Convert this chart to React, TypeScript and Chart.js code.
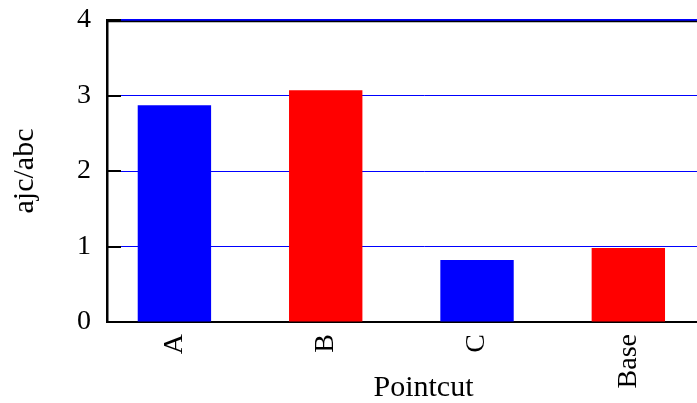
import React, { useEffect, useRef } from "react";
import { Chart, registerables } from "chart.js";

Chart.register(...registerables);

const categories = ["A", "B", "C", "Base"];
const ratios = [2.87, 3.07, 0.82, 0.98];
const barColors = ["#0000ff", "#ff0000", "#0000ff", "#ff0000"];
const yTicks = [0, 1, 2, 3, 4];

const SERIF = "'Liberation Serif', 'Times New Roman', serif";

// Inner tick marks on the value axis plus the black upper frame line.
const framePlugin = {
  id: "frame",
  afterDatasetsDraw(chart: any) {
    const { ctx, chartArea, scales } = chart;
    const y = scales.y;
    ctx.save();
    ctx.strokeStyle = "#000";
    ctx.lineWidth = 2;
    for (const t of y.ticks) {
      const py = Math.round(y.getPixelForValue(t.value));
      ctx.beginPath();
      ctx.moveTo(chartArea.left, py);
      ctx.lineTo(chartArea.left + 14, py);
      ctx.stroke();
    }
    ctx.lineWidth = 1.5;
    ctx.beginPath();
    ctx.moveTo(chartArea.left, chartArea.top + 1.5);
    ctx.lineTo(chartArea.right, chartArea.top + 1.5);
    ctx.stroke();
    ctx.restore();
  },
};

export default function App() {
  const canvasRef = useRef<HTMLCanvasElement | null>(null);

  useEffect(() => {
    if (!canvasRef.current) return;
    const chart = new Chart(canvasRef.current, {
      type: "bar",
      data: {
        datasets: [
          {
            data: ratios.map((v, i) => ({ x: i, y: v })),
            backgroundColor: barColors,
            borderWidth: 0,
            barPercentage: 0.485,
            categoryPercentage: 1,
          },
        ],
      },
      options: {
        animation: false,
        responsive: false,
        devicePixelRatio: 1,
        layout: { padding: { top: 20, left: 0, right: 0, bottom: 0 } },
        plugins: {
          legend: { display: false },
          tooltip: { enabled: false },
        },
        scales: {
          x: {
            type: "linear",
            min: -0.4455,
            max: 3.738,
            offset: false,
            afterBuildTicks: (scale: any) => {
              scale.ticks = categories.map((_, i) => ({ value: i }));
            },
            afterFit: (scale: any) => {
              scale.height = 81;
              scale.paddingLeft = 0;
              scale.paddingRight = 0;
            },
            grid: { display: false, drawTicks: false, tickLength: 0 },
            border: { display: true, color: "#000", width: 2 },
            ticks: {
              autoSkip: false,
              minRotation: 90,
              maxRotation: 90,
              padding: 12,
              color: "#000",
              font: { family: SERIF, size: 28 },
              callback: (value: any) => categories[value] ?? "",
            },
            title: {
              display: true,
              text: "Pointcut",
              color: "#000",
              font: { family: SERIF, size: 30, lineHeight: 1 },
              padding: { top: 0, bottom: 0 },
            },
          },
          y: {
            type: "linear",
            min: 0,
            max: 4,
            afterBuildTicks: (scale: any) => {
              scale.ticks = yTicks.map((v) => ({ value: v }));
            },
            afterFit: (scale: any) => {
              scale.width = 107;
              scale.paddingTop = 0;
              scale.paddingBottom = 0;
            },
            grid: {
              color: "#0000ff",
              lineWidth: (c: any) => (c.tick && c.tick.value === 4 ? 2 : 1),
              drawTicks: false,
              tickLength: 0,
            },
            border: { display: true, color: "#000", width: 2.5 },
            ticks: {
              padding: 16,
              color: "#000",
              font: { family: SERIF, size: 28 },
            },
            title: {
              display: true,
              text: "ajc/abc",
              color: "#000",
              font: { family: SERIF, size: 30, lineHeight: 1 },
              padding: { top: 10, bottom: 0 },
            },
          },
        },
      },
      plugins: [framePlugin],
    });
    return () => chart.destroy();
  }, []);

  return (
    <div
      style={{
        position: "absolute",
        left: 0,
        top: 0,
        width: 697,
        height: 403,
        overflow: "hidden",
        background: "#fff",
      }}
    >
      <canvas
        ref={canvasRef}
        width={740}
        height={403}
        style={{ display: "block", width: 740, height: 403 }}
      />
    </div>
  );
}
